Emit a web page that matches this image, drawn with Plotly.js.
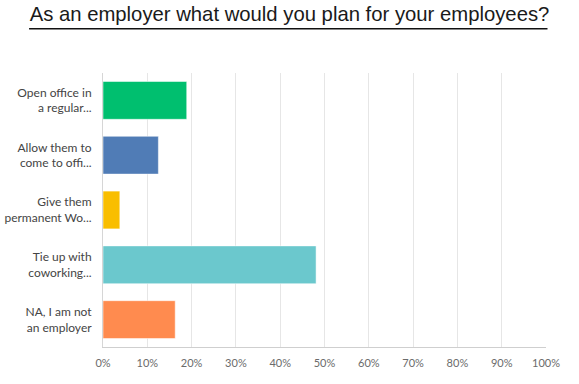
<!DOCTYPE html>
<html>
<head>
<meta charset="utf-8">
<script src="https://cdn.plot.ly/plotly-3.0.1.min.js"></script>
<style>html,body{margin:0;padding:0;background:#fff;}#chart{width:579px;height:384px;}</style>
</head>
<body>
<div id="chart"></div>
<script>
const categories = [
  "Open office in<br>a regular...",
  "Allow them to<br>come to offi...",
  "Give them<br>permanent Wo...",
  "Tie up with<br>coworking...",
  "NA, I am not<br>an employer"
];
const percentages = [18.9, 12.5, 3.8, 48.1, 16.3];
const tickValues = [0, 10, 20, 30, 40, 50, 60, 70, 80, 90, 100];
const tickLabels = ["0%", "10%", "20%", "30%", "40%", "50%", "60%", "70%", "80%", "90%", "100%"];
const barColors = ["#00BF6F", "#507CB6", "#F9BE00", "#6BC8CD", "#FF8B4F"];

const W = 579, H = 384;
const L = 103, R = 32.5, T = 72.7, B = 37.3;
const pw = W - L - R, ph = H - T - B;
function px2x(p){ return (p - L) / pw; }
function py2y(p){ return (H - B - p) / ph; }

const data = [{
  type: "bar",
  orientation: "h",
  x: percentages,
  y: categories,
  marker: { color: barColors, line: { color: "rgba(255,255,255,0.5)", width: 1 } },
  hoverinfo: "none"
}];

const layout = {
  width: W, height: H,
  margin: { l: L, r: R, t: T, b: B, pad: 0 },
  paper_bgcolor: "#fff", plot_bgcolor: "#fff",
  showlegend: false,
  bargap: 0.31,
  title: {
    text: "As an employer what would you plan for your employees?",
    font: { family: "Liberation Sans, Arial, sans-serif", size: 20.3, color: "#1a1a1a" },
    x: 0.5, xanchor: "center", xref: "container",
    y: 1 - 14.3 / H, yanchor: "middle", yref: "container"
  },
  xaxis: {
    range: [0, 100],
    tickvals: tickValues, ticktext: tickLabels,
    showgrid: true, gridcolor: "#e6e6e6", gridwidth: 1,
    zeroline: false,
    showline: true, linecolor: "#cfcfcf", linewidth: 1,
    ticks: "", ticklabelstandoff: 6,
    tickfont: { family: "Lato, Open Sans, sans-serif", size: 11, color: "#6b6b6b" },
    fixedrange: true
  },
  yaxis: {
    type: "category",
    autorange: "reversed",
    showgrid: false, zeroline: false,
    showline: true, linecolor: "#d6d6d6", linewidth: 1,
    ticks: "", ticklabelstandoff: 8,
    tickfont: { family: "Lato, Open Sans, sans-serif", size: 12, color: "#444" },
    fixedrange: true
  },
  shapes: [{
    type: "line", xref: "paper", yref: "paper",
    x0: px2x(29), x1: px2x(548), y0: py2y(28.5), y1: py2y(28.5),
    line: { color: "#111", width: 1.5 }
  }]
};

Plotly.newPlot("chart", data, layout, { displayModeBar: false, staticPlot: true });
</script>
</body>
</html>
